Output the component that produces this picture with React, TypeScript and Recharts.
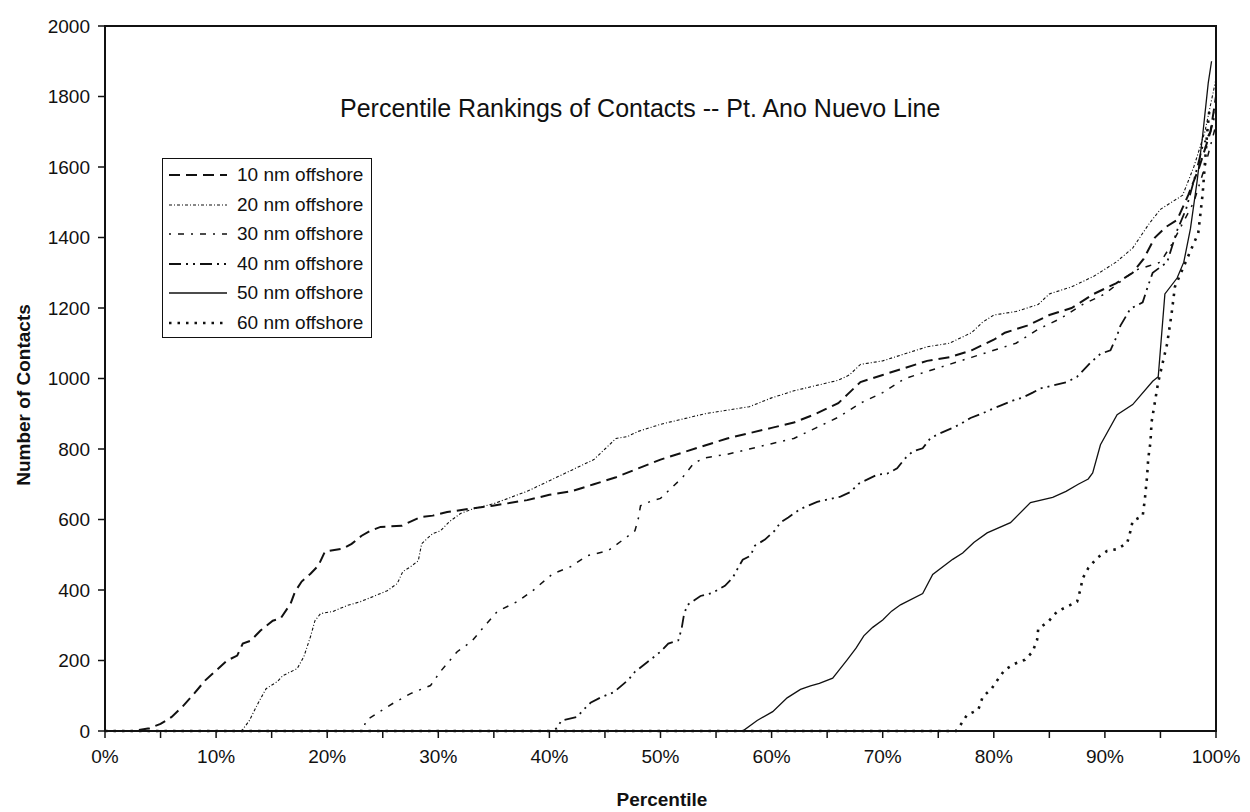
import React from "react"
import {
  LineChart,
  Line,
  XAxis,
  YAxis,
  ReferenceArea,
} from "recharts"

// [percentile, number of contacts]
const nm10: [number, number][] = [
  [0, 0], [2.5, 0], [4, 8], [5, 20], [6, 40], [7, 70], [8, 105], [9, 143], [9.7, 163], [11, 200],
  [11.9, 214], [12.4, 248], [13.1, 256], [14, 285], [15.1, 313], [15.8, 319], [16.7, 361], [17.1, 395],
  [17.7, 424], [18.5, 446], [19.2, 469], [19.8, 509], [21.4, 517], [22.2, 531], [23.1, 554], [23.9, 568],
  [24.8, 579], [26.7, 582], [27.5, 594], [28.4, 607], [29.5, 611], [30.8, 621], [32.7, 630], [34.9, 639],
  [38, 655], [40, 670], [42, 680], [44, 700], [46, 720], [48, 745], [50, 770], [52, 790], [54, 810],
  [56, 830], [58, 845], [60, 860], [62, 875], [64, 900], [66, 930], [67, 960], [68, 990], [70, 1010],
  [72, 1030], [74, 1050], [76, 1060], [78, 1080], [80, 1110], [81, 1130], [83, 1150], [85, 1180],
  [87, 1200], [89, 1240], [91, 1270], [92.5, 1300], [93.5, 1340], [94.5, 1400], [95.5, 1430],
  [96.5, 1450], [97.5, 1520], [98.5, 1600], [99.5, 1700], [100, 1800],
]

const nm20: [number, number][] = [
  [0, 0], [12.3, 0], [13, 30], [13.8, 80], [14.5, 120], [15.5, 140], [16, 157], [17.3, 177], [17.9, 211],
  [18.5, 268], [18.9, 313], [19.4, 333], [20.5, 339], [21.8, 356], [23, 367], [24.1, 381], [25.4, 398],
  [26.3, 418], [26.8, 452], [27.5, 466], [28.2, 483], [28.5, 531], [29, 546], [29.5, 560], [30.2, 568],
  [31, 594], [32, 617], [33.1, 630], [35, 645], [38, 680], [40, 710], [42, 740], [44, 770], [45, 800],
  [46, 830], [47, 835], [48, 850], [50, 870], [52, 885], [54, 900], [56, 910], [58, 920], [60, 945],
  [62, 965], [64, 980], [66, 995], [67, 1010], [68, 1040], [70, 1050], [72, 1070], [74, 1090],
  [76, 1100], [78, 1130], [79, 1160], [80, 1180], [82, 1190], [84, 1210], [85, 1240], [87, 1260],
  [89, 1290], [91, 1330], [92.5, 1370], [94, 1440], [95, 1480], [96, 1500], [97, 1520], [98, 1600],
  [99, 1700], [100, 1850],
]

const nm30: [number, number][] = [
  [0, 0], [23.2, 0], [23.5, 30], [24.5, 50], [25.9, 78], [27.5, 106], [29.3, 129], [30.2, 169],
  [31.7, 225], [33, 254], [34.2, 299], [35.3, 339], [37.1, 367], [38.5, 398], [40.3, 446], [41.9, 466],
  [43.4, 497], [45.3, 512], [47, 551], [47.7, 568], [48, 602], [48.2, 639], [49, 650], [50, 660],
  [51, 690], [52, 720], [53, 760], [54, 775], [56, 785], [58, 800], [60, 815], [62, 830], [64, 860],
  [65, 875], [66, 890], [68, 930], [70, 960], [72, 1000], [74, 1020], [76, 1040], [78, 1060],
  [80, 1080], [82, 1100], [84, 1140], [86, 1170], [88, 1210], [90, 1240], [92, 1290], [93, 1310],
  [94, 1320], [95, 1330], [96, 1380], [97, 1440], [98, 1500], [99, 1600], [100, 1720],
]

const nm40: [number, number][] = [
  [0, 0], [40.4, 0], [40.7, 10], [41.1, 30], [42.5, 40], [43, 58], [43.7, 80], [44.6, 95], [45.8, 110],
  [47.1, 145], [47.7, 168], [48.8, 195], [50, 225], [50.7, 248], [51.6, 257], [51.9, 290], [52.1, 328],
  [52.4, 357], [53.6, 383], [54.7, 392], [55.8, 412], [56.5, 435], [57, 464], [57.4, 486], [58.1, 497],
  [58.5, 526], [59.4, 543], [60.3, 569], [60.8, 592], [61.5, 606], [62.6, 630], [64.1, 650],
  [66.2, 665], [67.1, 678], [67.8, 701], [69.5, 727], [70.4, 730], [71.3, 745], [72, 773], [72.7, 793],
  [73.6, 802], [74.3, 831], [75.2, 845], [76.3, 860], [77, 871], [77.9, 888], [78.9, 900], [79.9, 914],
  [80.6, 923], [81.7, 937], [82.6, 946], [83.5, 960], [84.2, 972], [85.3, 980], [86.6, 990],
  [87.5, 1005], [88.7, 1045], [89.6, 1070], [90.5, 1080], [91.1, 1122], [91.4, 1150], [92.3, 1198],
  [93.4, 1216], [93.8, 1255], [94.3, 1300], [95.6, 1330], [96.5, 1420], [97.3, 1480], [98, 1560],
  [98.8, 1660], [99.5, 1700], [100, 1760],
]

const nm50: [number, number][] = [
  [0, 0], [57.4, 0], [58.7, 30], [60.1, 55], [61.4, 94], [62.6, 118], [63.5, 128], [64.3, 135],
  [65.5, 150], [66, 170], [66.8, 202], [67.6, 235], [68.3, 270], [69.1, 294], [70, 315], [70.8, 340],
  [71.6, 358], [73.6, 390], [74.5, 444], [76.3, 487], [77.2, 505], [78.2, 535], [79.4, 562],
  [81.5, 591], [83.3, 648], [85.3, 663], [86.5, 680], [87.6, 700], [88.5, 715], [88.9, 732],
  [89.6, 812], [91.1, 897], [92.5, 926], [94.3, 992], [94.8, 1005], [95.4, 1240], [96.5, 1285],
  [97.1, 1330], [97.7, 1425], [98.3, 1560], [98.8, 1690], [99.3, 1838], [99.6, 1900],
]

const nm60: [number, number][] = [
  [0, 0], [76.6, 0], [77, 17], [77.6, 46], [78.6, 60], [79, 97], [79.8, 120], [80.4, 148], [81, 174],
  [81.9, 191], [82.8, 202], [83.5, 225], [83.9, 259], [84, 290], [84.9, 310], [85.7, 339], [86.6, 353],
  [87.5, 367], [87.8, 402], [88, 433], [88.5, 462], [89.3, 491], [90.2, 511], [91.1, 516], [92, 533],
  [92.3, 567], [92.5, 596], [93.4, 610], [93.6, 658], [93.8, 724], [93.9, 773], [94.1, 819],
  [94.2, 876], [94.5, 933], [94.8, 990], [95.6, 1098], [96, 1183], [96.3, 1260], [97.4, 1340],
  [98.4, 1412], [98.8, 1524], [99.2, 1695], [99.4, 1760],
]

const xTicks = [0, 5, 10, 15, 20, 25, 30, 35, 40, 45, 50, 55, 60, 65, 70, 75, 80, 85, 90, 95, 100]
const yTicks = [0, 200, 400, 600, 800, 1000, 1200, 1400, 1600, 1800, 2000]

const toRows = (pts: [number, number][]) => pts.map(([p, v]) => ({ p, v }))

const series = [
  { name: "10 nm offshore", data: nm10, dash: "11 6", width: 2 },
  { name: "20 nm offshore", data: nm20, dash: "3 2 1 2", width: 1.1 },
  { name: "30 nm offshore", data: nm30, dash: "2 7 6 7", width: 1.5 },
  { name: "40 nm offshore", data: nm40, dash: "12 5 2 5 2 5", width: 1.8 },
  { name: "50 nm offshore", data: nm50, dash: undefined, width: 1.3 },
  { name: "60 nm offshore", data: nm60, dash: "2.5 6", width: 2.6 },
]

const font = "'Liberation Sans', Arial, sans-serif"
const ink = "#111"

export default function App() {
  return (
    <div style={{ position: "absolute", left: 0, top: 0, width: 1250, height: 812, background: "#fff", fontFamily: font }}>
      <LineChart width={1250} height={812} margin={{ top: 26, right: 34, bottom: 51, left: 0 }}>
        <XAxis
          dataKey="p"
          type="number"
          domain={[0, 100]}
          ticks={xTicks}
          interval={0}
          tickFormatter={(v: number) => (v % 10 === 0 ? `${v}%` : "")}
          tick={{ fontSize: 19, fill: ink, fontFamily: font }}
          tickSize={7}
          tickMargin={12}
          axisLine={{ stroke: ink, strokeWidth: 2 }}
          tickLine={{ stroke: ink, strokeWidth: 1.5 }}
          height={30}
        />
        <YAxis
          type="number"
          domain={[0, 2000]}
          ticks={yTicks}
          interval={0}
          width={105}
          tick={{ fontSize: 19, fill: ink, fontFamily: font }}
          tickSize={7}
          tickMargin={8}
          axisLine={{ stroke: ink, strokeWidth: 2 }}
          tickLine={{ stroke: ink, strokeWidth: 1.5 }}
        />
        <ReferenceArea x1={0} x2={100} y1={0} y2={2000} fill="none" stroke={ink} strokeWidth={2} />
        {series.map((s) => (
          <Line
            key={s.name}
            data={toRows(s.data)}
            dataKey="v"
            name={s.name}
            type="linear"
            stroke={ink}
            strokeWidth={s.width}
            strokeDasharray={s.dash}
            dot={false}
            activeDot={false}
            isAnimationActive={false}
          />
        ))}
      </LineChart>

      <div style={{ position: "absolute", left: 340, top: 94, fontSize: 25, color: ink, whiteSpace: "nowrap" }}>
        Percentile Rankings of Contacts -- Pt. Ano Nuevo Line
      </div>

      <div
        style={{
          position: "absolute",
          left: 162,
          top: 158,
          width: 210,
          height: 180,
          border: `1.5px solid ${ink}`,
          boxSizing: "border-box",
          background: "#fff",
        }}
      >
        {series.map((s, i) => (
          <div key={s.name} style={{ position: "absolute", left: 4, top: 3 + i * 29.5, height: 26, display: "flex", alignItems: "center" }}>
            <svg width={62} height={10} style={{ marginRight: 8 }}>
              <line x1={2} y1={5} x2={60} y2={5} stroke={ink} strokeWidth={s.width} strokeDasharray={s.dash} />
            </svg>
            <span style={{ fontSize: 19, color: ink, whiteSpace: "nowrap" }}>{s.name}</span>
          </div>
        ))}
      </div>

      <div
        style={{
          position: "absolute",
          left: 24,
          top: 395,
          transform: "translate(-50%, -50%) rotate(-90deg)",
          fontSize: 19,
          fontWeight: "bold",
          color: ink,
          whiteSpace: "nowrap",
        }}
      >
        Number of Contacts
      </div>
      <div
        style={{
          position: "absolute",
          left: 662,
          top: 800,
          transform: "translate(-50%, -50%)",
          fontSize: 19,
          fontWeight: "bold",
          color: ink,
          whiteSpace: "nowrap",
        }}
      >
        Percentile
      </div>
    </div>
  )
}
